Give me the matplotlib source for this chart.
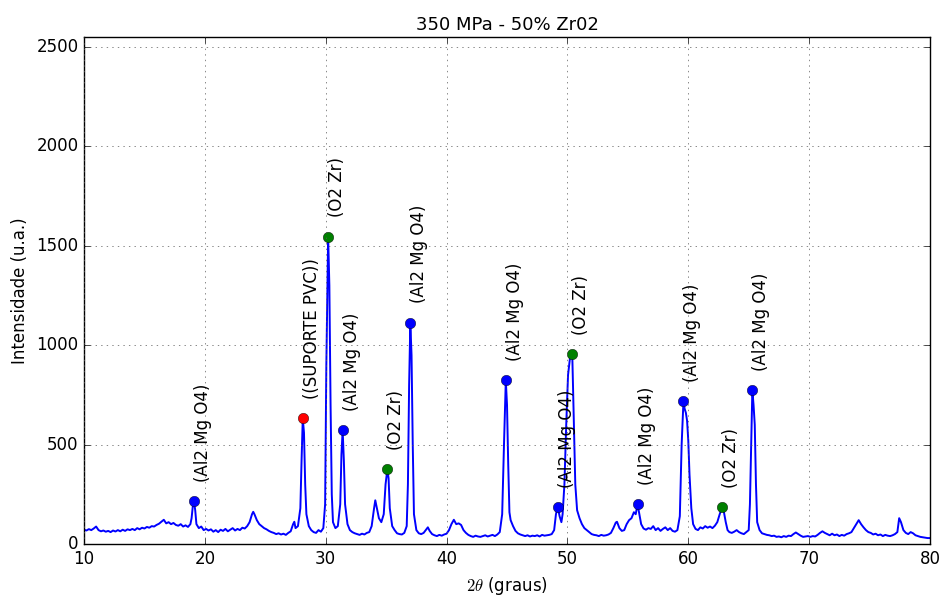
import matplotlib
matplotlib.use('Agg')
import matplotlib.pyplot as plt

# difratograma: 2theta (graus) x intensidade (u.a.)
theta_a = [10.0, 10.2, 10.4, 10.6, 10.8, 11.0, 11.2, 11.4, 11.6, 11.8, 12.0, 12.2, 12.4, 12.6,
           12.8, 13.0, 13.2, 13.4, 13.6, 13.8, 14.0, 14.2, 14.4, 14.6, 14.8, 15.0, 15.2, 15.4,
           15.6, 15.8, 16.0, 16.2, 16.4, 16.6, 16.8, 17.0, 17.2, 17.4, 17.6, 17.8, 18.0, 18.2,
           18.4, 18.6, 18.8, 18.9, 19.0, 19.1, 19.2, 19.3, 19.5, 19.7, 19.9, 20.1, 20.3, 20.5,
           20.7, 20.9, 21.1, 21.3, 21.5, 21.7, 21.9, 22.1, 22.3, 22.5, 22.7, 22.9, 23.1, 23.3,
           23.5, 23.7, 23.9, 24.0, 24.1, 24.3, 24.5, 24.7, 24.9, 25.1, 25.3, 25.5, 25.7, 25.9,
           26.1, 26.3, 26.5, 26.7, 26.9, 27.1, 27.3, 27.4, 27.5, 27.7, 27.9, 28.0, 28.1, 28.2,
           28.3, 28.4, 28.6, 28.8, 29.0, 29.2, 29.4, 29.6, 29.8, 29.95, 30.05, 30.2, 30.3,
           30.4, 30.5, 30.6, 30.8, 31.0, 31.2, 31.3, 31.4, 31.5, 31.6, 31.8, 32.0, 32.2, 32.4,
           32.6, 32.8, 33.0, 33.2, 33.4, 33.6, 33.8, 34.0, 34.1, 34.2, 34.4, 34.6, 34.8, 34.95,
           35.1, 35.2, 35.3, 35.5, 35.7, 35.9, 36.1, 36.3, 36.5, 36.7, 36.8, 36.9, 37.0, 37.1,
           37.2, 37.3, 37.5, 37.7, 37.9, 38.1, 38.3, 38.45, 38.6, 38.8, 39.0, 39.2, 39.4, 39.6,
           39.8, 40.0, 40.2, 40.4, 40.6, 40.8, 41.0, 41.2, 41.4, 41.6, 41.8, 42.0, 42.2, 42.4,
           42.6, 42.8, 43.0, 43.2, 43.4, 43.6, 43.8, 44.0, 44.2, 44.4, 44.6, 44.75, 44.9, 45.0,
           45.1, 45.2, 45.3, 45.5, 45.7, 45.9]
inten_a = [72, 68, 75, 70, 78, 88, 70, 64, 68, 62, 66, 60, 68, 63,
           70, 64, 72, 66, 74, 70, 76, 70, 80, 74, 82, 78, 86, 82,
           90, 88, 96, 102, 112, 122, 104, 110, 100, 106, 96, 92, 100, 88,
           94, 86, 100, 130, 190, 215, 170, 100, 80, 88, 70, 76, 68, 74,
           62, 70, 60, 72, 66, 76, 64, 72, 80, 68, 76, 70, 82, 78,
           90, 110, 150, 162, 150, 120, 100, 90, 80, 74, 66, 60, 56, 50,
           54, 48, 52, 46, 56, 64, 100, 112, 80, 90, 180, 420, 632, 560,
           300, 150, 90, 70, 60, 56, 70, 62, 80, 200, 900, 1546, 1300,
           700, 250, 110, 80, 90, 200, 450, 572, 420, 200, 100, 70, 60, 54,
           50, 46, 52, 48, 56, 60, 90, 180, 220, 190, 130, 110, 150, 300,
           376, 330, 180, 90, 70, 54, 50, 48, 56, 90, 300, 800, 1114, 950,
           500, 150, 70, 54, 50, 56, 72, 84, 66, 50, 44, 40, 46, 42,
           48, 52, 70, 100, 122, 100, 104, 96, 70, 56, 46, 40, 36, 42,
           38, 36, 40, 44, 38, 42, 46, 40, 48, 60, 150, 500, 823, 700,
           400, 160, 120, 90, 66, 54]

theta_b = [46.1, 46.3, 46.5, 46.7, 46.9, 47.1, 47.3, 47.5, 47.7, 47.9, 48.1, 48.3, 48.5,
           48.7, 48.9, 49.05, 49.2, 49.35, 49.5, 49.6, 49.75, 49.9, 50.05, 50.2, 50.4, 50.5,
           50.65, 50.8, 51.0, 51.2, 51.4, 51.6, 51.8, 52.0, 52.2, 52.4, 52.6, 52.8, 53.0,
           53.2, 53.4, 53.6, 53.8, 54.0, 54.1, 54.3, 54.5, 54.7, 54.9, 55.1, 55.3, 55.5,
           55.65, 55.8, 55.95, 56.1, 56.3, 56.5, 56.7, 56.9, 57.1, 57.3, 57.5, 57.7, 57.9,
           58.1, 58.3, 58.5, 58.7, 58.9, 59.1, 59.3, 59.45, 59.6, 59.7, 59.8, 59.9, 60.0,
           60.1, 60.25, 60.4, 60.6, 60.8, 61.0, 61.2, 61.4, 61.6, 61.8, 62.0, 62.2, 62.4,
           62.6, 62.8, 62.95, 63.1, 63.25, 63.4, 63.6, 63.8, 64.0, 64.2, 64.4, 64.6, 64.8,
           65.0, 65.1, 65.2, 65.3, 65.4, 65.5, 65.6, 65.7, 65.9, 66.1, 66.3, 66.5, 66.7,
           66.9, 67.1, 67.3, 67.5, 67.7, 67.9, 68.1, 68.3, 68.5, 68.7, 68.9, 69.1, 69.3,
           69.5, 69.7, 69.9, 70.1, 70.3, 70.5, 70.7, 70.9, 71.1, 71.3, 71.5, 71.7, 71.9,
           72.1, 72.3, 72.5, 72.7, 72.9, 73.1, 73.3, 73.5, 73.7, 73.9, 74.1, 74.3, 74.5,
           74.7, 74.9, 75.1, 75.3, 75.5, 75.7, 75.9, 76.1, 76.3, 76.5, 76.7, 76.9, 77.1,
           77.3, 77.45, 77.6, 77.8, 78.0, 78.2, 78.4, 78.6, 78.8, 79.0, 79.2, 79.4, 79.6,
           79.8, 80.0]
inten_b = [48, 44, 40, 44, 38, 42, 40, 44, 38, 46, 42, 44, 46,
           50, 70, 150, 186, 140, 110, 150, 300, 600, 850, 930, 954, 700,
           300, 170, 130, 100, 80, 70, 60, 50, 46, 44, 40, 46, 42,
           44, 48, 56, 80, 108, 112, 80, 66, 70, 100, 120, 130, 160,
           150, 201, 150, 100, 78, 72, 80, 76, 90, 70, 80, 66, 76,
           84, 70, 80, 66, 62, 70, 140, 500, 718, 680, 660, 620, 520,
           350, 180, 100, 76, 70, 84, 78, 90, 82, 88, 80, 92, 110,
           150, 186, 160, 110, 70, 60, 56, 62, 70, 60, 54, 50, 60,
           70, 200, 500, 773, 700, 600, 300, 110, 70, 54, 50, 46, 44,
           40, 42, 36, 38, 34, 40, 36, 42, 40, 50, 58, 50, 42,
           36, 38, 40, 36, 40, 38, 46, 56, 64, 56, 50, 44, 52,
           44, 48, 40, 46, 42, 50, 54, 60, 80, 100, 120, 100, 84,
           70, 60, 56, 48, 52, 44, 48, 40, 46, 42, 40, 44, 50,
           60, 130, 110, 70, 56, 50, 60, 54, 44, 40, 36, 34, 32,
           30, 30]

two_theta = theta_a + theta_b
intensity = inten_a + inten_b

# picos identificados
peak_pos = [19.1, 28.1, 30.2, 31.4, 35.1, 37.0, 44.9, 49.2, 50.4, 55.8, 59.6, 62.8, 65.3]
peak_int = [215, 632, 1546, 572, 376, 1114, 823, 186, 954, 201, 718, 186, 773]
peak_names = ['(Al2 Mg O4)', '((SUPORTE PVC))', '(O2 Zr)', '(Al2 Mg O4)', '(O2 Zr)',
              '(Al2 Mg O4)', '(Al2 Mg O4)', '(Al2 Mg O4)', '(O2 Zr)', '(Al2 Mg O4)',
              '(Al2 Mg O4)', '(O2 Zr)', '(Al2 Mg O4)']
phase_colors = {'(Al2 Mg O4)': 'b', '(O2 Zr)': 'g', '((SUPORTE PVC))': 'r'}

plt.style.use('classic')
plt.rcParams['figure.facecolor'] = 'white'
plt.rcParams['savefig.facecolor'] = 'white'

fig = plt.figure(figsize=(9.41, 5.96), dpi=100)
ax = fig.add_axes([0.0893, 0.0872, 0.899, 0.8507])

ax.plot(two_theta, intensity, color='b', linewidth=1.4)

for x, y, name in zip(peak_pos, peak_int, peak_names):
    ax.plot(x, y, 'o', color=phase_colors[name], markersize=7.5,
            markeredgecolor='k', markeredgewidth=0.3)
    ax.annotate(name, xy=(x, y), xytext=(0, 14), textcoords='offset points',
                rotation=90, ha='left', va='bottom', fontsize=12)

ax.set_xlim(10, 80)
ax.set_ylim(0, 2550)
ax.set_xticks(range(10, 81, 10))
ax.set_yticks(range(0, 2501, 500))
ax.grid(True, color='0.35')
ax.set_title('350 MPa - 50% Zr02', fontsize=13)
ax.set_xlabel(r'$2\theta$ (graus)')
ax.set_ylabel('Intensidade (u.a.)')

fig.savefig('out.png', dpi=100)
